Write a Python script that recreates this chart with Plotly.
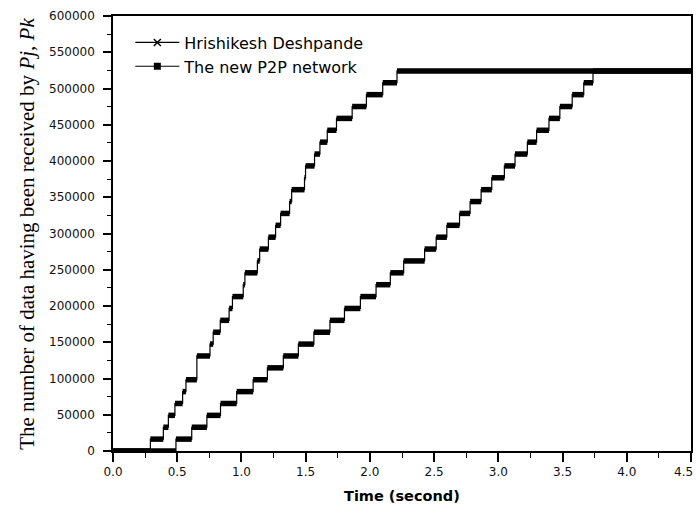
import plotly.graph_objects as go

# ---- data (time in seconds, amount received) ----
hrishi_times = [0.490, 0.613, 0.731, 0.837, 0.963, 1.091, 1.202, 1.326, 1.443, 1.564,
                1.689, 1.802, 1.926, 2.048, 2.159, 2.263, 2.426, 2.516, 2.599, 2.698,
                2.780, 2.866, 2.949, 3.047, 3.130, 3.226, 3.298, 3.394, 3.479, 3.575,
                3.665, 3.737]
hrishi_levels = [16384, 32768, 49152, 65536, 81920, 98304, 114688, 131072, 147456, 163840,
                 180224, 196608, 212992, 229376, 245760, 262144, 278528, 294912, 311296, 327680,
                 344064, 360448, 376832, 393216, 409600, 425984, 442368, 458752, 475136, 491520,
                 507904, 524288]

p2p_times = [0.291, 0.392, 0.431, 0.482, 0.542, 0.568, 0.653, 0.755, 0.780, 0.835,
             0.904, 0.930, 1.014, 1.027, 1.124, 1.142, 1.210, 1.266, 1.305, 1.375,
             1.391, 1.491, 1.499, 1.569, 1.611, 1.668, 1.740, 1.862, 1.973, 2.100,
             2.211]
p2p_levels = [16384, 32768, 49152, 65536, 81920, 98304, 131072, 147456, 163840,
              180224, 196608, 212992, 229376, 245760, 262144, 278528, 294912, 311296, 327680,
              344064, 360448, 376832, 393216, 409600, 425984, 442368, 458752, 475136, 491520,
              507904, 524288]

start_time = 0.0
start_level = 0
end_time = 4.5

x_ticks = [0.0, 0.5, 1.0, 1.5, 2.0, 2.5, 3.0, 3.5, 4.0, 4.5]
y_ticks = [0, 50000, 100000, 150000, 200000, 250000, 300000, 350000, 400000, 450000,
           500000, 550000, 600000]

names = ["Hrishikesh Deshpande", "The new P2P network"]

TICK_FONT = dict(family="DejaVu Sans", size=12, color="#111111")


def step_traces(times, levels):
    xs = [start_time] + times + [end_time]
    ys = [start_level] + levels + [levels[-1]]
    thin = go.Scatter(x=xs, y=ys, mode="lines", line=dict(color="black", width=1.2, shape="hv"),
                      showlegend=False, hoverinfo="skip")
    starts = [start_time] + times
    ends = times + [end_time]
    levs = [start_level] + levels
    bx, by = [], []
    for s, e, l in zip(starts, ends, levs):
        bx += [s, e, None]
        by += [l, l, None]
    thick = go.Scatter(x=bx, y=by, mode="lines", line=dict(color="black", width=5.5),
                       showlegend=False, hoverinfo="skip")
    return [thin, thick]


fig = go.Figure()
for tr in step_traces(hrishi_times, hrishi_levels):
    fig.add_trace(tr)
for tr in step_traces(p2p_times, p2p_levels):
    fig.add_trace(tr)

# legend-only entries
fig.add_trace(go.Scatter(x=[None], y=[None], mode="lines+markers", name=names[0],
                         line=dict(color="black", width=1.2),
                         marker=dict(symbol="x-thin", size=7, color="black",
                                     line=dict(color="black", width=1.5))))
fig.add_trace(go.Scatter(x=[None], y=[None], mode="lines+markers", name=names[1],
                         line=dict(color="black", width=1.2),
                         marker=dict(symbol="square", size=7, color="black")))

# last x tick label sits on the window edge: draw it right-aligned so it stays visible
x_ticktext = [f"{v:.1f}" for v in x_ticks[:-1]] + [""]
last_label = f"{x_ticks[-1]:.1f}"

fig.update_layout(
    width=696, height=510,
    margin=dict(l=113, r=5, t=16, b=59, autoexpand=False),
    paper_bgcolor="white", plot_bgcolor="white",
    showlegend=True,
    legend=dict(x=0.03, y=0.978, xanchor="left", yanchor="top",
                bgcolor="rgba(0,0,0,0)", borderwidth=0, tracegroupgap=0,
                itemwidth=44,
                font=dict(family="DejaVu Sans", size=16, color="black")),
    xaxis=dict(range=[0, 4.5], tickvals=x_ticks, ticktext=x_ticktext,
               ticks="outside", ticklen=9, tickwidth=1.5, tickcolor="black",
               showline=True, linecolor="black", linewidth=1.5, mirror=True,
               showgrid=False, zeroline=False, tickfont=TICK_FONT, automargin=False,
               minor=dict(ticks="outside", ticklen=5, tickwidth=1.2, tickcolor="black",
                          dtick=0.25, showgrid=False)),
    yaxis=dict(range=[0, 600000], tickvals=y_ticks, ticktext=[str(v) for v in y_ticks],
               ticks="outside", ticklen=8, tickwidth=1.5, tickcolor="black",
               showline=True, linecolor="black", linewidth=1.5, mirror=True,
               showgrid=False, zeroline=False, tickfont=TICK_FONT, automargin=False,
               ticklabelstandoff=6,
               minor=dict(ticks="outside", ticklen=4, tickwidth=1.2, tickcolor="black",
                          dtick=25000, showgrid=False)),
    annotations=[
        dict(text=last_label, xref="x", yref="paper", x=x_ticks[-1], y=0,
             xanchor="right", yanchor="top", xshift=4, yshift=-12, showarrow=False,
             font=TICK_FONT),
        dict(text="<b>Time (second)</b>", xref="paper", yref="paper",
             x=0.5, y=-0.103, xanchor="center", yanchor="middle", showarrow=False,
             font=dict(family="DejaVu Sans", size=14.5, color="black")),
        dict(text="The number of data having been received by <i>Pj</i>, <i>Pk</i>",
             xref="paper", yref="paper", x=-0.150, y=0.5, xanchor="center", yanchor="middle",
             textangle=-90, showarrow=False,
             font=dict(family="Liberation Serif", size=21, color="black")),
    ],
)

# remove the default 8px page margin so the figure fills the window exactly
fig.write_html("out.html", config={"displayModeBar": False},
               post_script="document.body.style.margin='0px';document.body.style.overflow='hidden';")
